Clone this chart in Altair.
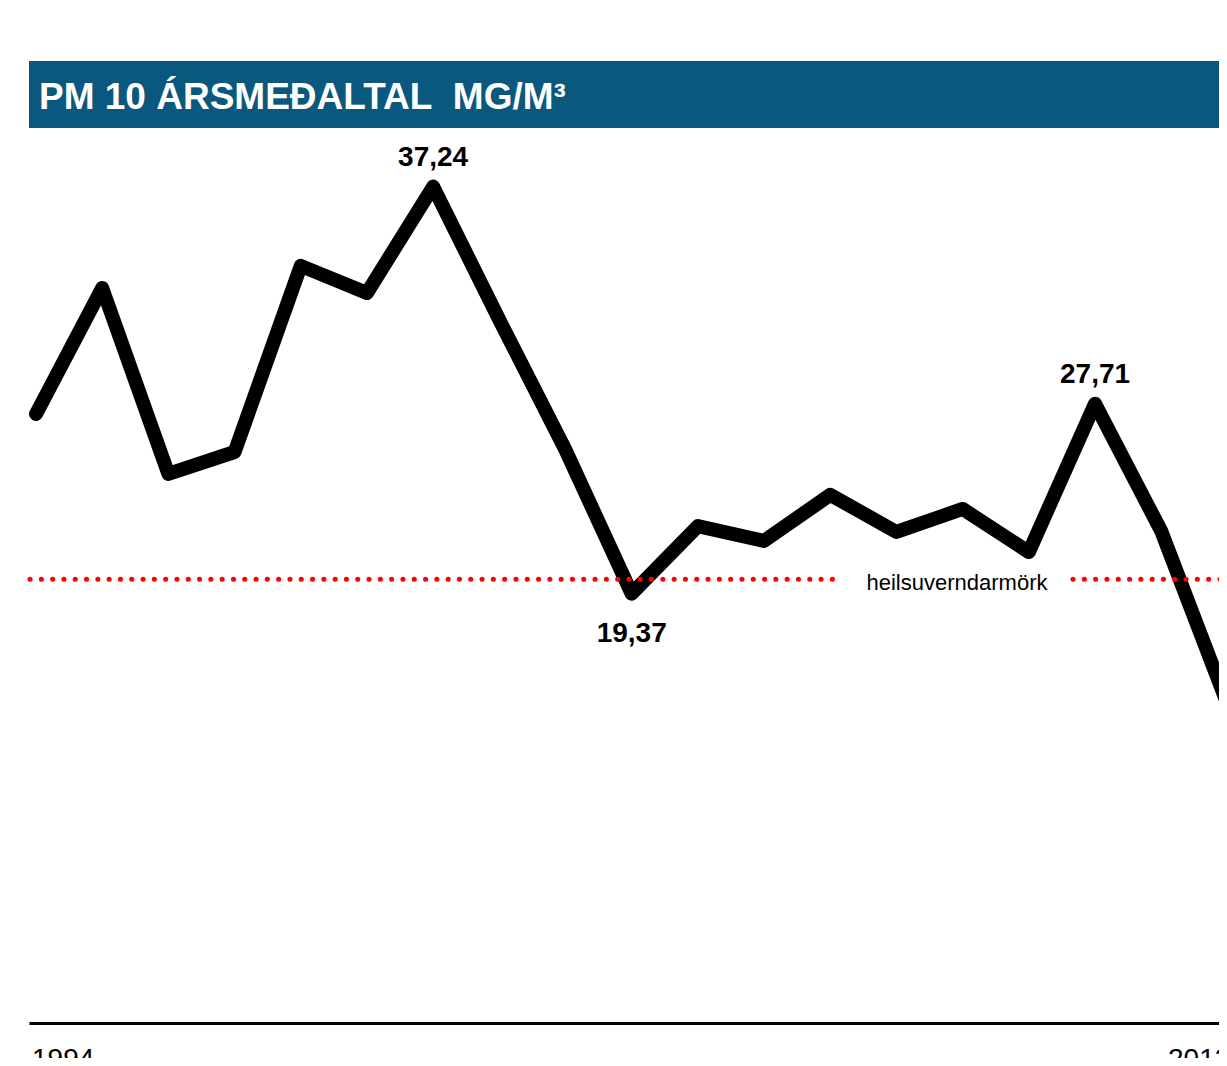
import altair as alt
import pandas as pd

# ---- data ----
years = list(range(1994, 2013))
pm10 = [27.26, 32.79, 24.63, 25.59, 33.76, 32.57, 37.24, 31.39, 25.68, 19.37,
        22.34, 21.69, 23.71, 22.08, 23.09, 21.20, 27.71, 22.12, 14.53]
limit_value = 20
title_text = "PM 10 ÁRSMEÐALTAL\u00a0 MG/M³"
limit_label = "heilsuverndarmörk"
top_label_years = [2000, 2010]
bottom_label_years = [2003]
axis_labels = ["1994", "2013"]

df = pd.DataFrame({"year": years, "value": pm10})
df["label"] = df["value"].map(lambda v: f"{v:.2f}".replace(".", ","))
top_df = df[df["year"].isin(top_label_years)]
bottom_df = df[df["year"].isin(bottom_label_years)]

W, H = 1190, 1015
SANS = "'Liberation Sans', Arial, sans-serif"

x_scale = alt.Scale(domain=[1993.894, 2011.873], nice=False, zero=False)
y_scale = alt.Scale(domain=[0.527, 45.08], nice=False, zero=False)
x_axis = alt.Axis(domain=True, domainColor="black", domainWidth=3,
                  ticks=False, labels=False, grid=False, title=None)

x_enc = alt.X("year:Q", scale=x_scale, axis=x_axis)
y_enc = alt.Y("value:Q", scale=y_scale, axis=None)

banner = alt.Chart(pd.DataFrame({"t": [title_text]})).mark_rect(color="#0b587e").encode(
    x=alt.value(0), x2=alt.value(W + 20), y=alt.value(53), y2=alt.value(120)
)
title = alt.Chart(pd.DataFrame({"t": [title_text]})).mark_text(
    align="left", baseline="alphabetic", color="white", font=SANS,
    fontWeight="bold", fontSize=37
).encode(x=alt.value(10), y=alt.value(101), text="t:N")

line = alt.Chart(df).mark_line(
    color="black", strokeWidth=14, strokeJoin="round", strokeCap="round"
).encode(x=x_enc, y=y_enc)

lim_df = pd.DataFrame({"v": [limit_value]})
dot_style = dict(color="#ff0000", strokeWidth=5, strokeCap="round", strokeDash=[0.1, 11.2])
rule1 = alt.Chart(lim_df).mark_rule(**dot_style).encode(
    x=alt.value(1), x2=alt.value(812), y=alt.Y("v:Q", scale=y_scale, axis=None)
)
rule2 = alt.Chart(lim_df).mark_rule(**dot_style).encode(
    x=alt.value(1044), x2=alt.value(W + 20), y=alt.Y("v:Q", scale=y_scale, axis=None)
)
lim_text = alt.Chart(pd.DataFrame({"v": [limit_value], "t": [limit_label]})).mark_text(
    align="center", baseline="middle", dy=4, color="black", font=SANS, fontSize=22
).encode(x=alt.value(928), y=alt.Y("v:Q", scale=y_scale, axis=None), text="t:N")

top_labels = alt.Chart(top_df).mark_text(
    align="center", baseline="alphabetic", dy=-21, color="black", font=SANS,
    fontWeight="bold", fontSize=28
).encode(x=x_enc, y=y_enc, text="label:N")
bottom_labels = alt.Chart(bottom_df).mark_text(
    align="center", baseline="alphabetic", dy=48, color="black", font=SANS,
    fontWeight="bold", fontSize=28
).encode(x=x_enc, y=y_enc, text="label:N")

ax_df = pd.DataFrame({"t": axis_labels, "px": [3, 1139]})
ax_labels = alt.Chart(ax_df).mark_text(
    align="left", baseline="alphabetic", color="black", font=SANS, fontSize=28
).encode(x=alt.X("px:Q", scale=None, axis=None), y=alt.value(1060), text="t:N")

chart = alt.layer(
    banner, title, line, rule1, rule2, lim_text, top_labels, bottom_labels, ax_labels
).properties(
    width=W, height=H,
    padding={"left": 21, "top": 0, "right": 0, "bottom": 35},
    autosize=alt.AutoSizeParams(type="none"),
    background="white",
).configure_view(stroke=None)

chart.save("out.html", embed_options={"renderer": "svg", "actions": False})
